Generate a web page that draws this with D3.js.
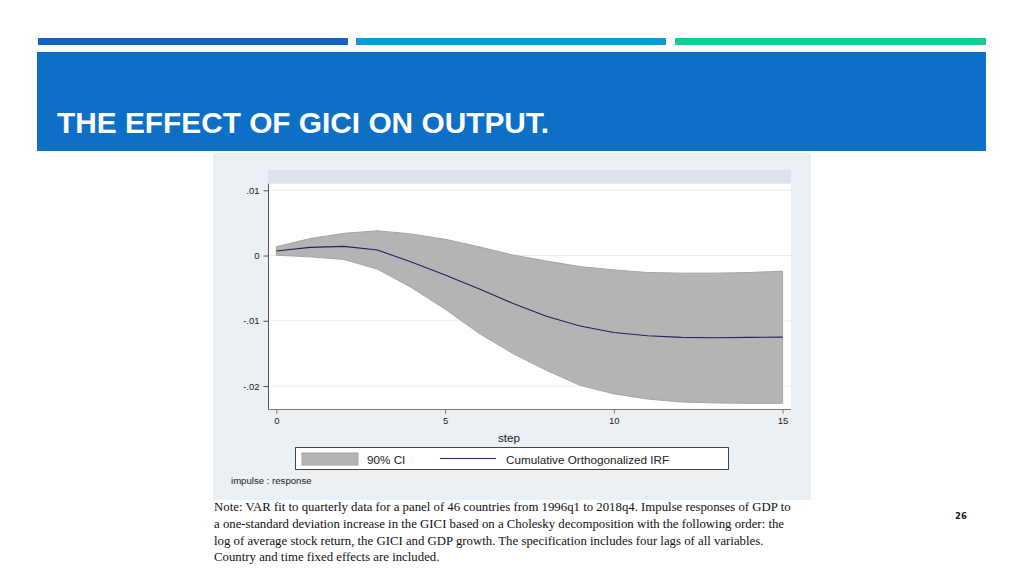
<!DOCTYPE html>
<html><head><meta charset="utf-8">
<script src="https://cdn.jsdelivr.net/npm/d3@7"></script>
<style>body{margin:0;background:#fff;}svg{display:block;}</style>
</head><body>
<svg id="c" width="1024" height="576"></svg>
<script>
const steps = [0,1,2,3,4,5,6,7,8,9,10,11,12,13,14,15];
const irf   = [0.0007,0.00125,0.0014,0.00084,-0.0010,-0.0030,-0.0051,-0.0073,-0.0093,-0.0108,-0.0118,-0.0123,-0.01255,-0.0126,-0.01255,-0.0125];
const upper = [0.00135,0.0026,0.0034,0.0038,0.0033,0.0025,0.00135,0.0001,-0.00084,-0.0017,-0.0022,-0.0026,-0.0027,-0.0027,-0.0026,-0.0024];
const lower = [0.00005,-0.0002,-0.0006,-0.0021,-0.0049,-0.0082,-0.0119,-0.0150,-0.0176,-0.0199,-0.0212,-0.0220,-0.02245,-0.0226,-0.02265,-0.02265];
const yTicks = [0.01,0,-0.01,-0.02];
const yTickLabels = [".01","0","-.01","-.02"];
const xTicks = [0,5,10,15];
const title = "THE EFFECT OF GICI ON OUTPUT.";
const noteLines = [
 "Note: VAR fit to quarterly data for a panel of 46 countries from 1996q1 to 2018q4. Impulse responses of GDP to",
 "a one-standard deviation increase in the GICI based on a Cholesky decomposition with the following order: the",
 "log of average stock return, the GICI and GDP growth. The specification includes four lags of all variables.",
 "Country and time fixed effects are included."
];
const legendLabels = ["90% CI","Cumulative Orthogonalized IRF"];

const svg = d3.select("#c");
const sans = "Liberation Sans, Arial, sans-serif";
// top bars
const bars = [{x:38,w:310,c:"#1565c0"},{x:356,w:310,c:"#0a9ad8"},{x:675,w:311,c:"#13cc94"}];
svg.selectAll("rect.tb").data(bars).join("rect").attr("x",d=>d.x).attr("y",38).attr("width",d=>d.w).attr("height",7).attr("fill",d=>d.c);
// title box
svg.append("rect").attr("x",37).attr("y",52).attr("width",949).attr("height",99).attr("fill","#0e6fc6");
svg.append("text").attr("x",57).attr("y",133.3).attr("fill","#fff")
  .style("font-family",sans).style("font-weight","bold").style("font-size","30px")
  .attr("textLength",492).attr("lengthAdjust","spacingAndGlyphs").text(title);

// chart background
svg.append("rect").attr("x",213).attr("y",153).attr("width",598).attr("height",347).attr("fill","#eaf0f3");
// strip
svg.append("rect").attr("x",268).attr("y",170).attr("width",523).attr("height",14).attr("fill","#dae4ea");
// plot area
const L=268.5, R=791, T=183.7, B=409.5;
svg.append("rect").attr("x",L).attr("y",T).attr("width",R-L).attr("height",B-T).attr("fill","#fff");

const x = d3.scaleLinear().domain([0,15]).range([276.3,782.6]);
const y = d3.scaleLinear().domain([0.01,-0.02]).range([190.3,386]);

// gridlines
svg.selectAll("line.g").data(yTicks).join("line").attr("x1",L).attr("x2",R)
  .attr("y1",d=>y(d)).attr("y2",d=>y(d)).attr("stroke","#e6edf1").attr("stroke-width",1);

// band
const area = d3.area().x((d,i)=>x(steps[i])).y0((d,i)=>y(lower[i])).y1((d,i)=>y(upper[i]));
svg.append("path").datum(steps).attr("d",area).attr("fill","#b4b4b4").attr("stroke","#a4a4a4").attr("stroke-width",1);
// line
const line = d3.line().x((d,i)=>x(steps[i])).y((d,i)=>y(irf[i]));
svg.append("path").datum(steps).attr("d",line).attr("fill","none").attr("stroke","#1f2360").attr("stroke-width",1.1);

// axes
const yAxis = d3.axisLeft(y).tickValues(yTicks).tickFormat((d,i)=>yTickLabels[i]).tickSize(5).tickPadding(4);
const ga = svg.append("g").attr("transform",`translate(${L},0)`).call(yAxis);
ga.select(".domain").attr("d",`M0,${T}V${B}`).attr("stroke","#555");
ga.selectAll(".tick line").attr("stroke","#555");
ga.selectAll("text").style("font-family",sans).style("font-size","9.5px").attr("fill","#222");

const xAxis = d3.axisBottom(x).tickValues(xTicks).tickSize(4).tickPadding(4);
const gx = svg.append("g").attr("transform",`translate(0,${B})`).call(xAxis);
gx.select(".domain").attr("d",`M${L},0H${R}`).attr("stroke","#777");
gx.selectAll(".tick line").attr("stroke","#777");
gx.selectAll("text").style("font-family",sans).style("font-size","9.5px").attr("fill","#222");

svg.append("text").attr("x",509).attr("y",442).attr("text-anchor","middle")
  .style("font-family",sans).style("font-size","11.7px").attr("fill","#222").text("step");

// legend
svg.append("rect").attr("x",295.5).attr("y",447.5).attr("width",433).attr("height",22).attr("fill","#fff").attr("stroke","#444").attr("stroke-width",1);
svg.append("rect").attr("x",302).attr("y",453).attr("width",56).attr("height",12).attr("fill","#b4b4b4").attr("stroke","#a4a4a4");
svg.append("line").attr("x1",440).attr("x2",496).attr("y1",458.5).attr("y2",458.5).attr("stroke","#1f2360").attr("stroke-width",1.2);
svg.selectAll("text.lg").data(legendLabels).join("text").attr("x",(d,i)=>i?506:367).attr("y",464)
  .style("font-family",sans).style("font-size","11.7px").attr("fill","#222").text(d=>d);

svg.append("text").attr("x",231).attr("y",484)
  .style("font-family",sans).style("font-size","9.6px").attr("fill","#222").text("impulse : response");

// note
svg.selectAll("text.note").data(noteLines).join("text").attr("x",214).attr("y",(d,i)=>511+i*16.8)
  .style("font-family","Liberation Serif, Times New Roman, serif").style("font-size","12.8px").attr("fill","#111").text(d=>d);

svg.append("text").attr("x",961).attr("y",519).attr("text-anchor","middle")
  .style("font-family","DejaVu Sans, sans-serif").style("font-weight","bold").style("font-size","8.5px").attr("fill","#222").text("26");
</script>
</body></html>
